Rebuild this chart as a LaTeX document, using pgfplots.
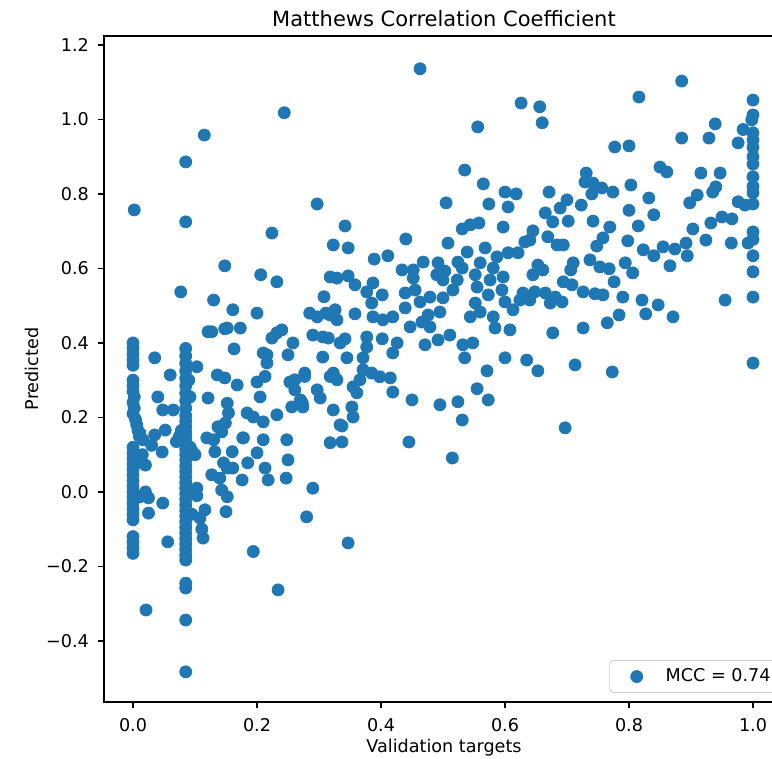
\documentclass[border=0pt]{standalone}
\usepackage{fontspec}
\setmainfont{DejaVu Sans}
\usepackage{pgfplots}
\pgfplotsset{compat=1.18}
\definecolor{c0}{HTML}{1F77B4}
\begin{document}
\begin{tikzpicture}
\begin{axis}[
  at={(0pt,0pt)}, anchor=south west,
  scale only axis, width=340pt, height=333pt,
  xmin=-0.0468, xmax=1.05, ymin=-0.564, ymax=1.224,
  axis line style={black, line width=0.7pt},
  tick pos=left, tick align=outside,
  major tick length=3pt,
  every tick/.style={black, line width=0.7pt},
  xtick={0,0.2,0.4,0.6,0.8,1.0},
  xticklabels={0.0,0.2,0.4,0.6,0.8,1.0},
  ytick={-0.4,-0.2,0,0.2,0.4,0.6,0.8,1.0,1.2},
  yticklabels={−0.4,−0.2,0.0,0.2,0.4,0.6,0.8,1.0,1.2},
  tick label style={font=\fontsize{8.8}{10}\selectfont},
  xticklabel style={yshift=-1.5pt},
  yticklabel style={xshift=-1pt},
  title={Matthews Correlation Coefficient},
  every axis title/.style={at={(0.5,1)}, anchor=center, yshift=8.5pt, font=\fontsize{10.5}{12}\selectfont},
  xlabel={Validation targets},
  xlabel style={font=\fontsize{8.8}{10}\selectfont, at={(axis description cs:0.5,-0.069)}, anchor=center},
  ylabel={Predicted},
  ylabel style={font=\fontsize{8.8}{10}\selectfont, at={(axis description cs:-0.106,0.5)}, anchor=center},
  legend style={at={(rel axis cs:1,0)}, anchor=south east, xshift=-1.5pt, yshift=4.5pt,
    draw=black!20, rounded corners=2pt, fill=white, font=\fontsize{8.8}{10}\selectfont,
    inner xsep=3pt, inner ysep=2pt},
  legend image code/.code={\path[draw=none, fill=none] (-10.5pt,-3pt) rectangle (12.5pt,3pt); \draw plot coordinates {(0pt,0pt)};},
]
\addplot[only marks, mark=*, mark size=3pt, color=c0, mark options={draw=none, fill=c0}] coordinates {
(0,0.40) (0,0.385) (0,0.37) (0,0.355) (0,0.34) (0,0.30) (0,0.285) (0,0.27) (0.002,0.255) (0,0.24)
(0.002,0.225) (0,0.21) (0.004,0.195) (0.006,0.18) (0.008,0.165) (0.01,0.15) (0,0.12) (0,0.105) (0,0.09) (0,0.075)
(0,0.06) (0,0.045) (0,0.03) (0,0.015) (0,0.0) (0,-0.015) (0,-0.03) (0,-0.045) (0,-0.06) (0,-0.075)
(0,-0.12) (0,-0.135) (0,-0.15) (0,-0.165) (0.002,0.757)
(0.035,0.36) (0.04,0.255) (0.048,0.22) (0.065,0.22) (0.03,0.125) (0.047,0.107) (0.052,0.166) (0.06,0.314)
(0.02,0.072) (0.025,-0.016) (0.025,-0.057) (0.048,-0.03) (0.056,-0.134) (0.021,-0.317) (0.011,0.158)
(0.016,0.14) (0.035,0.153) (0.011,-0.013) (0.006,0.078) (0.015,0.1) (0.02,0.0)
(0.085,0.385) (0.085,0.365) (0.085,0.345) (0.085,0.325) (0.085,0.305) (0.085,0.285) (0.085,0.265)
(0.085,0.245) (0.085,0.225) (0.085,0.205) (0.085,0.19) (0.085,0.175) (0.085,0.16) (0.085,0.145)
(0.085,0.13) (0.085,0.115) (0.085,0.10) (0.085,0.085) (0.085,0.07) (0.085,0.055) (0.085,0.04)
(0.085,0.025) (0.085,0.01) (0.085,-0.005) (0.085,-0.02) (0.085,-0.035) (0.085,-0.05) (0.085,-0.065)
(0.085,-0.08) (0.085,-0.095) (0.085,-0.11) (0.085,-0.125) (0.085,-0.14) (0.085,-0.155) (0.085,-0.17)
(0.085,-0.183) (0.085,-0.245) (0.085,-0.258) (0.085,-0.344) (0.085,-0.483) (0.085,0.725) (0.085,0.886)
(0.092,0.255) (0.095,0.11) (0.092,0.12) (0.098,0.005) (0.095,-0.06) (0.09,0.3) (0.075,0.15) (0.07,0.135) (0.078,0.165)
(0.103,0.336) (0.121,0.252) (0.10,0.1) (0.103,0.01) (0.103,-0.01) (0.116,-0.048) (0.108,-0.07) (0.111,-0.1)
(0.113,-0.124) (0.119,0.145) (0.13,0.14) (0.132,0.108) (0.127,0.046) (0.14,0.037) (0.143,0.005) (0.152,-0.013)
(0.15,-0.053) (0.152,0.064) (0.146,0.078) (0.16,0.108) (0.161,0.064) (0.137,0.175) (0.143,0.161) (0.149,0.185)
(0.152,0.238) (0.154,0.212) (0.136,0.314) (0.148,0.306) (0.168,0.287) (0.127,0.43) (0.121,0.43) (0.152,0.44)
(0.173,0.44) (0.163,0.384) (0.161,0.489) (0.13,0.515) (0.2,0.48) (0.176,0.032) (0.178,0.145) (0.185,0.078)
(0.2,0.105) (0.194,-0.16) (0.21,0.14) (0.213,0.064) (0.218,0.032) (0.205,0.255) (0.2,0.295) (0.213,0.31)
(0.216,0.346) (0.21,0.373) (0.224,0.413) (0.232,0.427) (0.24,0.435) (0.25,0.368) (0.258,0.4) (0.232,0.207)
(0.248,0.14) (0.25,0.086) (0.247,0.037) (0.234,-0.263) (0.28,-0.067) (0.29,0.01) (0.253,0.295) (0.261,0.274)
(0.256,0.228) (0.274,0.228) (0.27,0.247) (0.277,0.31) (0.285,0.48) (0.297,0.47) (0.306,0.416) (0.318,0.475)
(0.326,0.489) (0.306,0.362) (0.318,0.31) (0.323,0.22) (0.318,0.132)
(0.297,0.773) (0.224,0.695) (0.342,0.714) (0.323,0.663) (0.347,0.655) (0.389,0.625) (0.411,0.634) (0.148,0.607)
(0.206,0.583) (0.232,0.564) (0.318,0.577) (0.329,0.574) (0.347,0.58) (0.358,0.556) (0.377,0.537) (0.387,0.561)
(0.402,0.529) (0.308,0.524) (0.311,0.48) (0.329,0.462) (0.358,0.478) (0.385,0.507) (0.387,0.47) (0.403,0.462)
(0.148,0.438) (0.216,0.368) (0.29,0.421) (0.315,0.413) (0.334,0.4) (0.342,0.411) (0.345,0.36) (0.377,0.416)
(0.377,0.389) (0.371,0.36) (0.402,0.411) (0.419,0.373) (0.371,0.328) (0.385,0.319) (0.398,0.309) (0.415,0.306)
(0.366,0.301) (0.355,0.282) (0.361,0.266) (0.419,0.268) (0.323,0.319) (0.329,0.301) (0.277,0.319) (0.261,0.301)
(0.297,0.274) (0.302,0.252) (0.273,0.239) (0.353,0.228) (0.355,0.201) (0.334,0.18) (0.184,0.212) (0.194,0.201)
(0.21,0.188) (0.177,0.145) (0.337,0.134) (0.337,0.177)
(0.244,1.018) (0.115,0.958) (0.077,0.537)
(0.463,1.136) (0.626,1.044) (0.656,1.034) (0.66,0.991) (0.556,0.98) (0.535,0.864)
(0.565,0.827) (0.6,0.805) (0.618,0.8) (0.671,0.805) (0.505,0.776) (0.574,0.773) (0.605,0.765) (0.665,0.749)
(0.689,0.762) (0.677,0.725) (0.531,0.706) (0.544,0.717) (0.558,0.722) (0.597,0.711) (0.645,0.701) (0.44,0.679)
(0.508,0.668) (0.632,0.671) (0.669,0.685) (0.684,0.663) (0.539,0.644) (0.568,0.655) (0.605,0.642) (0.621,0.642)
(0.64,0.676) (0.468,0.617) (0.492,0.615) (0.524,0.617) (0.56,0.615) (0.587,0.631) (0.434,0.596) (0.452,0.596)
(0.503,0.593) (0.531,0.601) (0.581,0.601) (0.653,0.609) (0.661,0.596) (0.706,0.596) (0.49,0.583) (0.552,0.583)
(0.645,0.583) (0.452,0.574) (0.5,0.569) (0.523,0.569) (0.576,0.569) (0.597,0.577) (0.439,0.534) (0.455,0.542)
(0.516,0.542) (0.555,0.55) (0.573,0.529) (0.595,0.542) (0.629,0.534) (0.648,0.537) (0.665,0.534) (0.681,0.523)
(0.463,0.51) (0.479,0.523) (0.5,0.521) (0.552,0.507) (0.6,0.51) (0.624,0.515) (0.64,0.515) (0.673,0.507)
(0.439,0.494) (0.419,0.47) (0.476,0.475) (0.495,0.483) (0.544,0.47) (0.56,0.483) (0.581,0.47) (0.613,0.489)
(0.466,0.456) (0.479,0.443) (0.447,0.443) (0.584,0.44) (0.608,0.435) (0.677,0.427) (0.426,0.4) (0.471,0.395)
(0.492,0.408) (0.511,0.421) (0.532,0.395) (0.548,0.4) (0.535,0.36) (0.6,0.36) (0.635,0.354) (0.653,0.325)
(0.571,0.325) (0.45,0.247) (0.495,0.234) (0.524,0.242) (0.555,0.277) (0.573,0.247) (0.531,0.193) (0.697,0.172)
(0.445,0.134) (0.515,0.091) (0.347,-0.137)
(0.885,1.103) (0.816,1.06) (1.0,1.052) (1.0,1.012) (0.998,0.999) (0.939,0.988) (0.984,0.973) (1.0,0.964)
(0.777,0.926) (0.8,0.929) (0.885,0.95) (0.929,0.95) (0.976,0.937) (1.0,0.945) (1.0,0.925) (1.0,0.9)
(1.0,0.88) (1.0,0.846) (1.0,0.82) (1.0,0.803) (1.0,0.773) (0.987,0.77) (0.976,0.779) (0.85,0.872)
(0.861,0.859) (0.916,0.856) (0.947,0.856) (0.94,0.819) (0.935,0.805) (0.91,0.797) (0.898,0.776) (0.731,0.856)
(0.729,0.832) (0.742,0.829) (0.756,0.816) (0.774,0.805) (0.74,0.8) (0.803,0.824) (0.832,0.789) (0.723,0.77)
(0.7,0.784) (0.8,0.756) (0.84,0.744) (0.702,0.727) (0.742,0.727) (0.769,0.711) (0.815,0.714) (0.903,0.706)
(0.932,0.722) (0.95,0.738) (0.966,0.733) (1.0,0.698) (1.0,0.678) (0.992,0.668) (0.694,0.663) (0.758,0.682)
(0.748,0.66) (0.798,0.674) (0.823,0.65) (0.84,0.634) (0.855,0.658) (0.874,0.652) (0.892,0.668) (0.894,0.634)
(0.924,0.676) (0.965,0.668) (1.0,0.634) (0.71,0.615) (0.737,0.623) (0.753,0.604) (0.768,0.599) (0.794,0.615)
(0.806,0.588) (0.866,0.607) (1.0,0.591) (0.694,0.564) (0.708,0.556) (0.726,0.537) (0.745,0.532) (0.758,0.529)
(0.776,0.564) (0.79,0.523) (0.821,0.515) (0.847,0.502) (0.827,0.478) (0.871,0.47) (0.955,0.515) (1.0,0.523)
(0.692,0.51) (0.784,0.475) (0.765,0.454) (0.726,0.44) (0.713,0.341) (0.773,0.322) (1.0,0.346)
};
\addlegendentry{MCC = 0.74}
\end{axis}
\pgfresetboundingbox
\path[use as bounding box] (-52pt,-28.5pt) rectangle (334pt,351pt);
\end{tikzpicture}
\end{document}
